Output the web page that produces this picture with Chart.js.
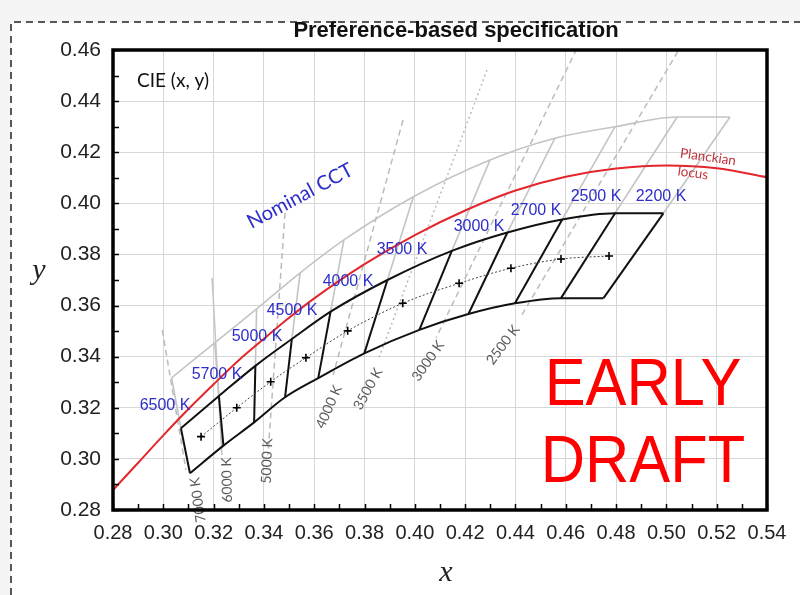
<!DOCTYPE html>
<html>
<head>
<meta charset="utf-8">
<title>Preference-based specification</title>
<script src="https://cdn.jsdelivr.net/npm/chart.js@4.4.1/dist/chart.umd.min.js"></script>
<style>
  html, body { margin: 0; padding: 0; background: #ffffff; }
  canvas { display: block; }
</style>
</head>
<body>
<canvas id="chart" width="800" height="595"></canvas>
<script>
// Planckian locus in CIE 1931 (x, y)
const planckX = [0.28, 0.29, 0.30, 0.31, 0.32, 0.33, 0.34, 0.35, 0.36, 0.38, 0.40, 0.42, 0.44, 0.46, 0.48, 0.50, 0.52, 0.54];
const planckY = [0.2878, 0.2985, 0.3092, 0.3195, 0.3292, 0.3386, 0.3470, 0.3552, 0.3628, 0.3762, 0.3876, 0.3972, 0.4050, 0.4104, 0.4136, 0.4148, 0.4137, 0.4102];

// Preferred quadrangles: corners on the upper and lower boundary, left to right
const quadTopX    = [0.3070, 0.3221, 0.3366, 0.3511, 0.3665, 0.3891, 0.4147, 0.4368, 0.4586, 0.4796, 0.4988];
const quadTopY    = [0.3120, 0.3246, 0.3364, 0.3469, 0.3576, 0.3700, 0.3814, 0.3886, 0.3937, 0.3961, 0.3961];
const quadBottomX = [0.3106, 0.3239, 0.3361, 0.3484, 0.3616, 0.3799, 0.4018, 0.4213, 0.4398, 0.4581, 0.4750];
const quadBottomY = [0.2944, 0.3052, 0.3143, 0.3241, 0.3316, 0.3413, 0.3505, 0.3567, 0.3609, 0.3629, 0.3629];

// Quadrangle centres
const centerX = [0.3150, 0.3292, 0.3427, 0.3567, 0.3733, 0.3952, 0.4176, 0.4382, 0.4581, 0.4772];
const centerY = [0.3087, 0.3200, 0.3302, 0.3396, 0.3501, 0.3609, 0.3687, 0.3746, 0.3782, 0.3794];
const cctNames = ['6500 K', '5700 K', '5000 K', '4500 K', '4000 K', '3500 K', '3000 K', '2700 K', '2500 K', '2200 K'];

// Nominal CCT region: upper boundary corners
const nominalTopX = [0.3033, 0.3204, 0.3371, 0.3544, 0.3718, 0.3994, 0.4299, 0.4557, 0.4796, 0.5043, 0.5253];
const nominalTopY = [0.3317, 0.3454, 0.3587, 0.3728, 0.3857, 0.4026, 0.4170, 0.4255, 0.4300, 0.4338, 0.4338];

// Isotemperature lines (end points)
const isoNames   = ['7000 K', '6000 K', '5000 K', '4000 K', '3500 K', '3000 K', '2500 K'];
const isoTopX    = [0.2996, 0.3194, 0.3484, 0.3953, 0.4287, 0.4661, 0.5066];
const isoTopY    = [0.3504, 0.3708, 0.3962, 0.4326, 0.4522, 0.4640, 0.4628];
const isoBottomX = [0.3090, 0.3233, 0.3416, 0.3675, 0.3854, 0.4084, 0.4418];
const isoBottomY = [0.2957, 0.3015, 0.3015, 0.3328, 0.3387, 0.3473, 0.3551];
const isoDash    = ['dash', 'solid', 'dash', 'dash', 'dot', 'dash', 'dash'];

// Text placement (canvas pixels) and styling
const PLOT = { left: 113, right: 767, top: 50, bottom: 510 };
const BLUE = '#2d2dc8';
const cctLabelPos = [[165, 406], [217, 375], [257, 337], [292, 311], [348, 282], [402, 250], [479, 227], [536, 211], [596, 197], [661, 197]];
const isoLabelPos = [[198, 500, -98], [227, 480, -91], [267, 461, -88], [329, 407, -66], [368, 389, -61], [428, 361, -55], [503, 345, -53]];

const pts = (xs, ys) => xs.map((x, i) => ({ x: x, y: ys[i] }));
const datasets = [];

// isotemperature lines
isoNames.forEach((name, i) => {
  datasets.push({
    label: name,
    data: [{ x: isoTopX[i], y: isoTopY[i] }, { x: isoBottomX[i], y: isoBottomY[i] }],
    borderColor: isoDash[i] === 'solid' ? '#c4c4c4' : '#bbbbbb',
    borderWidth: 1.5,
    borderDash: isoDash[i] === 'dash' ? [6, 4] : (isoDash[i] === 'dot' ? [2, 3] : []),
    order: 5
  });
});

// nominal CCT quadrangles (grey)
datasets.push({
  label: 'Nominal CCT upper',
  data: pts(nominalTopX, nominalTopY),
  borderColor: '#c4c4c4', borderWidth: 1.6,
  cubicInterpolationMode: 'monotone', order: 4
});
nominalTopX.forEach((x, i) => {
  datasets.push({
    label: 'Nominal edge ' + i,
    data: [{ x: quadTopX[i], y: quadTopY[i] }, { x: x, y: nominalTopY[i] }],
    borderColor: '#c4c4c4', borderWidth: 1.6, order: 4
  });
});

// Planckian locus
datasets.push({
  label: 'Planckian locus',
  data: pts(planckX, planckY),
  borderColor: '#e3262b', borderWidth: 2,
  cubicInterpolationMode: 'monotone', order: 3
});

// preferred quadrangles (black)
datasets.push({
  label: 'Upper boundary',
  data: pts(quadTopX, quadTopY),
  borderColor: '#111111', borderWidth: 2,
  cubicInterpolationMode: 'monotone', order: 2
});
datasets.push({
  label: 'Lower boundary',
  data: pts(quadBottomX, quadBottomY),
  borderColor: '#111111', borderWidth: 2,
  cubicInterpolationMode: 'monotone', order: 2
});
quadTopX.forEach((x, i) => {
  datasets.push({
    label: 'Edge ' + i,
    data: [{ x: quadBottomX[i], y: quadBottomY[i] }, { x: x, y: quadTopY[i] }],
    borderColor: '#111111', borderWidth: 2, order: 2
  });
});

// centres
datasets.push({
  label: 'Centres',
  data: pts(centerX, centerY),
  borderColor: '#444444', borderWidth: 1, borderDash: [2, 2],
  pointStyle: 'cross', pointRadius: 4, pointBorderWidth: 1.6,
  pointBorderColor: '#000000', pointBackgroundColor: '#000000',
  cubicInterpolationMode: 'monotone', order: 1
});

datasets.forEach(d => {
  d.showLine = true;
  if (d.pointRadius === undefined) d.pointRadius = 0;
  d.fill = false;
});

function text(ctx, str, x, y, font, color, angleDeg, align) {
  ctx.save();
  ctx.translate(x, y);
  if (angleDeg) ctx.rotate(angleDeg * Math.PI / 180);
  ctx.font = font;
  ctx.fillStyle = color;
  ctx.textAlign = align || 'center';
  ctx.textBaseline = 'middle';
  ctx.fillText(str, 0, 0);
  ctx.restore();
}

const decor = {
  id: 'decor',
  beforeDraw(chart) {
    const ctx = chart.ctx;
    ctx.save();
    ctx.fillStyle = '#f4f4f4';
    ctx.fillRect(0, 0, chart.width, chart.height);
    ctx.fillStyle = '#ffffff';
    ctx.fillRect(11, 22, chart.width - 11, chart.height - 22);
    ctx.strokeStyle = '#222222';
    ctx.lineWidth = 1.5;
    ctx.setLineDash([7, 5]);
    ctx.beginPath();
    ctx.moveTo(11, chart.height);
    ctx.lineTo(11, 22);
    ctx.lineTo(chart.width, 22);
    ctx.stroke();
    ctx.restore();
  },
  afterDatasetsDraw(chart) {
    const ctx = chart.ctx;
    cctNames.forEach((t, i) => {
      text(ctx, t, cctLabelPos[i][0], cctLabelPos[i][1], '16px "Liberation Sans", Arial, sans-serif', BLUE, 0);
    });
    isoNames.forEach((t, i) => {
      const p = isoLabelPos[i];
      text(ctx, t, p[0], p[1], '14px Lato, "Open Sans", sans-serif', '#5a5a5a', p[2]);
    });
    text(ctx, 'Nominal CCT', 300, 196, '20px Lato, "Open Sans", sans-serif', BLUE, -28);
    text(ctx, 'Planckian', 708, 157, '13.5px Lato, "Open Sans", sans-serif', '#c0333a', 8);
    text(ctx, 'locus', 693, 173, '13.5px Lato, "Open Sans", sans-serif', '#c0333a', 8);
    text(ctx, 'CIE (x, y)', 137, 81, '19px Lato, "Open Sans", sans-serif', '#111111', 0, 'left');

    // draft stamp
    ctx.save();
    ctx.fillStyle = '#ff0000';
    ctx.font = '66px "Liberation Sans", Arial, sans-serif';
    ctx.textAlign = 'center';
    ctx.textBaseline = 'alphabetic';
    ctx.translate(643, 0);
    ctx.scale(0.93, 1);
    ctx.fillText('EARLY', 0, 405);
    ctx.fillText('DRAFT', 0, 482);
    ctx.restore();
  },
  afterDraw(chart) {
    const ctx = chart.ctx;
    const a = chart.chartArea;
    const xs = chart.scales.x, ys = chart.scales.y;
    ctx.save();
    // inward tick marks every 0.01
    ctx.strokeStyle = '#000000';
    ctx.lineWidth = 1.5;
    ctx.beginPath();
    for (let k = 28; k <= 54; k++) {
      const px = Math.round(xs.getPixelForValue(k / 100)) + 0.5;
      ctx.moveTo(px, a.bottom);
      ctx.lineTo(px, a.bottom - 6);
    }
    for (let k = 28; k <= 46; k++) {
      const py = Math.round(ys.getPixelForValue(k / 100)) + 0.5;
      ctx.moveTo(a.left, py);
      ctx.lineTo(a.left + 6, py);
    }
    ctx.stroke();
    // frame
    ctx.lineWidth = 3.5;
    ctx.strokeRect(a.left, a.top, a.right - a.left, a.bottom - a.top);
    ctx.restore();

    text(ctx, 'Preference-based specification', 456, 31, 'bold 22px "Liberation Sans", Arial, sans-serif', '#111111', 0);
    text(ctx, 'y', 39, 271, 'italic 30px "Liberation Serif", "Times New Roman", serif', '#222222', 0);
    text(ctx, 'x', 446, 573, 'italic 30px "Liberation Serif", "Times New Roman", serif', '#222222', 0);
  }
};

new Chart(document.getElementById('chart'), {
  type: 'scatter',
  data: { datasets: datasets },
  options: {
    responsive: false,
    animation: false,
    devicePixelRatio: 1,
    layout: { padding: { left: 0, top: PLOT.top, right: 800 - PLOT.right, bottom: 0 } },
    plugins: { legend: { display: false }, tooltip: { enabled: false }, title: { display: false } },
    scales: {
      x: {
        type: 'linear', min: 0.28, max: 0.54,
        afterFit(scale) { scale.height = 595 - PLOT.bottom; },
        ticks: {
          stepSize: 0.02, padding: 11, color: '#222222',
          font: { family: '"Liberation Sans", Arial, sans-serif', size: 20 },
          callback: v => v.toFixed(2), maxRotation: 0, autoSkip: false
        },
        grid: { color: '#d6d6d6', lineWidth: 1, drawTicks: false },
        border: { display: false }
      },
      y: {
        type: 'linear', min: 0.28, max: 0.46,
        afterFit(scale) { scale.width = PLOT.left; },
        ticks: {
          stepSize: 0.02, padding: 12, color: '#222222',
          font: { family: '"Liberation Sans", Arial, sans-serif', size: 21 },
          callback: v => v.toFixed(2), autoSkip: false
        },
        grid: { color: '#d6d6d6', lineWidth: 1, drawTicks: false },
        border: { display: false }
      }
    }
  },
  plugins: [decor]
});
</script>
</body>
</html>
